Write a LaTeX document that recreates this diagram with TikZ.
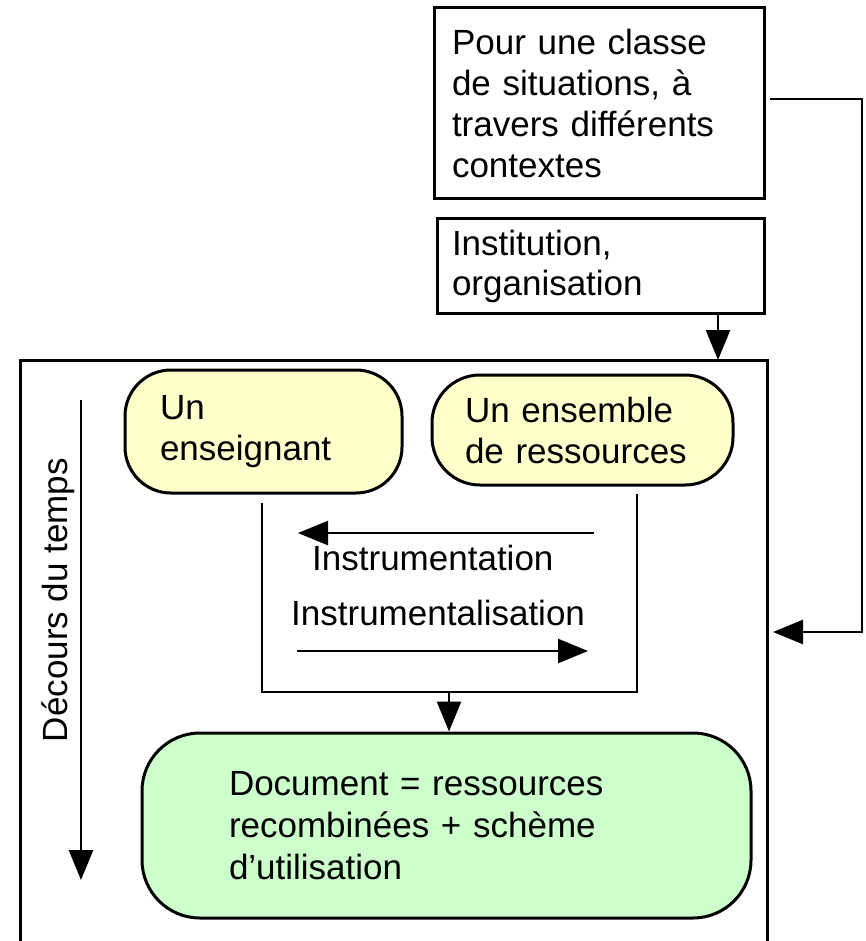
\documentclass[tikz,border=0pt]{standalone}
\usepackage{fontspec}
\setmainfont{Liberation Sans}
\usetikzlibrary{arrows.meta,calc}
\definecolor{yellowfill}{HTML}{FFFFCC}
\definecolor{greenfill}{HTML}{CCFFCC}
\begin{document}
\begin{tikzpicture}[x=1pt,y=-1pt,
  txt/.style={font=\fontsize{35}{41}\selectfont},
  sqbox/.style={draw,line width=3pt,txt,align=left,inner ysep=0pt},
  rbox/.style={draw,line width=3pt,rounded corners=#1,txt,align=left,inner ysep=0pt},
  arr/.style={line width=2.6pt,-{Triangle[length=30pt,width=24pt]}},
  ln/.style={line width=2.6pt},
  lbl/.style={txt,inner sep=0pt}]
\useasboundingbox (0,0) rectangle (865,941);
\clip (0,0) rectangle (865,941);

% outer frame (open at the bottom)
\draw[line width=3pt] (20,960) -- (20,360) -- (767,360) -- (767,960);

% top boxes
\node[sqbox,minimum width=330pt,minimum height=191pt,inner xsep=18pt,text width=294pt] (cls) at (599,103.5)
  {Pour une classe\\de situations, à\\travers différents\\contextes};
\node[sqbox,minimum width=327pt,minimum height=94pt,inner xsep=15pt,text width=297pt,font=\fontsize{35}{40}\selectfont] (inst) at (600.5,266)
  {Institution,\\organisation};
\coordinate (instarr) at (718,360);
\draw[arr] (inst.south -| instarr) -- (instarr);

% right connector
\coordinate (rc1) at (862,99);
\coordinate (rc2) at (862,632);
\coordinate (rc3) at (773,632);
\draw[arr] ([xshift=4pt,yshift=4.5pt]cls.east) -- (rc1) -- (rc2) -- (rc3);

% teacher and resources
\node[rbox=46pt,fill=yellowfill,minimum width=277pt,minimum height=123pt,inner xsep=35pt,text width=207pt] (ens) at (263.5,431.5)
  {Un\\enseignant};
\node[rbox=48pt,fill=yellowfill,minimum width=301pt,minimum height=110pt,inner xsep=33pt,text width=235pt] (res) at (582.5,430)
  {Un ensemble\\de ressources};

% bracket
\coordinate (bA) at (262,503);
\coordinate (bB) at (262,692);
\coordinate (bC) at (637,692);
\coordinate (bD) at (637,494);
\draw[ln] (bA) -- (bB) -- (bC) -- (bD);

% instrumentation arrows
\coordinate (i1s) at (594,533);
\coordinate (i1e) at (298,533);
\coordinate (i2s) at (297,651);
\coordinate (i2e) at (588,651);
\draw[arr] (i1s) -- (i1e);
\draw[arr] (i2s) -- (i2e);
\node[lbl,anchor=base west] (tinstr) at (312,570) {Instrumentation};
\node[lbl,anchor=base west] (tinstl) at (291,625) {Instrumentalisation};

% document
\node[rbox=58pt,fill=greenfill,minimum width=609pt,minimum height=185pt,inner xsep=87pt,text width=435pt,font=\fontsize{35}{42}\selectfont] (doc) at (446.5,825.5)
  {Document = ressources\\recombinées + schème\\d’utilisation};
\coordinate (bM) at (449,692);
\draw[arr] (bM) -- (doc.north -| bM);

% time axis
\coordinate (t0) at (81,400);
\coordinate (t1) at (81,880);
\draw[arr] (t0) -- (t1);
\node[lbl,rotate=90,anchor=base] (tlab) at (67,600) {Décours du temps};
\end{tikzpicture}
\end{document}
